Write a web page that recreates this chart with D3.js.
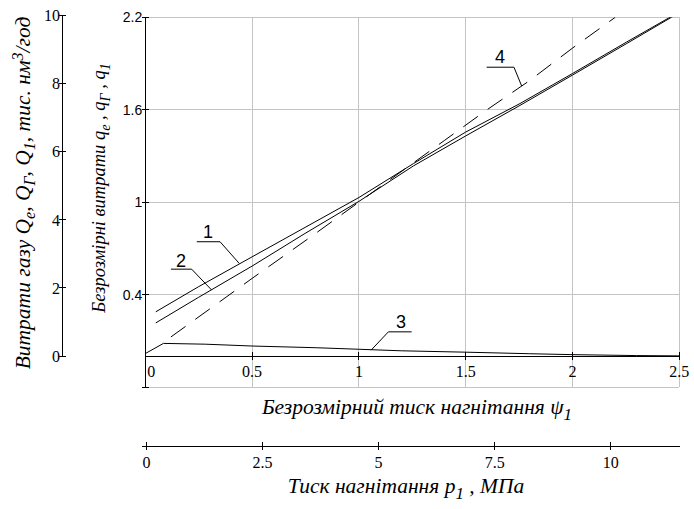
<!DOCTYPE html>
<html>
<head>
<meta charset="utf-8">
<script src="https://cdn.jsdelivr.net/npm/d3@7"></script>
<style>
  body { margin: 0; background: #fff; }
  text { fill: #000; font-family: "Liberation Serif", "DejaVu Serif", "Times New Roman", serif; }
  text.sans { font-family: "Liberation Sans", "DejaVu Sans", Arial, sans-serif; }
</style>
</head>
<body>
<script>
// безрозмірний тиск psi1 та витрати q (1 - qe, 2 - qГ, 3 - q1, 4 - пунктир)
const psi12 = [0.049, 0.248, 0.5, 0.748, 1.0, 1.255, 1.5, 1.754, 2.0, 2.254, 2.5];
const q1Line = [0.288, 0.45, 0.645, 0.836, 1.03, 1.25, 1.455, 1.64, 1.835, 2.04, 2.235];
const q2Line = [0.216, 0.381, 0.585, 0.797, 1.005, 1.235, 1.43, 1.628, 1.825, 2.03, 2.23];
const psi3 = [0, 0.085, 0.28, 0.5, 0.8, 1.0, 1.2, 1.5, 1.8, 2.0, 2.3, 2.5];
const q3Line = [0.017, 0.083, 0.078, 0.066, 0.055, 0.045, 0.035, 0.026, 0.016, 0.01, 0.004, 0.002];
const psi4 = [0.12, 0.5, 0.78, 1.0, 1.4, 1.6, 1.8, 2.0, 2.2];
const q4Line = [0.125, 0.505, 0.78, 1.0, 1.4, 1.6, 1.79, 2.0, 2.2];

const psiTicks = [0, 0.5, 1, 1.5, 2, 2.5];
const qTicks = [0.4, 1, 1.6, 2.2];
const QTicks = [0, 2, 4, 6, 8, 10];
const pTicks = [0, 2.5, 5, 7.5, 10];

// підписи кривих: текст, лінія-виноска, точка на кривій (у координатах psi, q)
const callouts = [
  {name: "1", tx: 0.294, ty: 0.767, hx0: 0.241, hx1: 0.350, hy: 0.743, px: 0.44, py: 0.602, side: 1},
  {name: "2", tx: 0.167, ty: 0.58, hx0: 0.12, hx1: 0.217, hy: 0.565, px: 0.311, py: 0.429, side: 1},
  {name: "3", tx: 1.197, ty: 0.18, hx0: 1.138, hx1: 1.247, hy: 0.158, px: 1.057, py: 0.039, side: 0},
  {name: "4", tx: 1.661, ty: 1.902, hx0: 1.598, hx1: 1.726, hy: 1.876, px: 1.762, py: 1.754, side: 1}
];

const W = 694, H = 509;
const pLeft = 145.3, pRight = 679.3, pTop = 17.3, pBottom = 387;

const svg = d3.select("body").append("svg")
  .attr("width", W).attr("height", H);

svg.append("rect").attr("width", W).attr("height", H).attr("fill", "#fff");

const x = d3.scaleLinear().domain([0, 2.5]).range([pLeft, pRight]);
const y = d3.scaleLinear().domain([-0.2, 2.2]).range([pBottom, pTop]);
const yQ = d3.scaleLinear().domain([0, 10]).range([y(0), 15]);
const xP = d3.scaleLinear().domain([0, 11.5]).range([146.5, pRight + 1]);

const grey = "#c4c4c4";

// сітка
const grid = svg.append("g").attr("stroke", grey).attr("stroke-width", 1).attr("shape-rendering", "crispEdges");
grid.selectAll(".gx").data(psiTicks.slice(1)).enter().append("line")
  .attr("x1", d => x(d)).attr("x2", d => x(d))
  .attr("y1", pTop).attr("y2", pBottom);
grid.selectAll(".gy").data(qTicks).enter().append("line")
  .attr("x1", pLeft).attr("x2", pRight)
  .attr("y1", d => y(d)).attr("y2", d => y(d));
grid.append("line").attr("x1", pLeft).attr("x2", pRight).attr("y1", pBottom).attr("y2", pBottom);

// вісь psi (на рівні q = 0)
const axX = svg.append("g").attr("stroke", "#000").attr("shape-rendering", "crispEdges");
axX.append("line").attr("x1", pLeft).attr("x2", pRight).attr("y1", y(0)).attr("y2", y(0));
axX.selectAll(".tx").data(psiTicks.slice(1)).enter().append("line")
  .attr("x1", d => x(d)).attr("x2", d => x(d))
  .attr("y1", y(0) - 4).attr("y2", y(0) + 4);
svg.selectAll(".psiLab").data(psiTicks).enter().append("text")
  .attr("x", d => d === 0 ? x(d) + 6 : x(d))
  .attr("y", y(0) + 21)
  .attr("text-anchor", "middle")
  .attr("font-size", 16)
  .text(d => d);

// вісь q
const axY = svg.append("g").attr("stroke", "#000").attr("shape-rendering", "crispEdges");
axY.append("line").attr("x1", pLeft).attr("x2", pLeft).attr("y1", pTop).attr("y2", pBottom);
axY.selectAll(".ty").data(qTicks.concat([-0.2])).enter().append("line")
  .attr("x1", pLeft - 3).attr("x2", pLeft + 4)
  .attr("y1", d => y(d)).attr("y2", d => y(d));
svg.selectAll(".qLab").data(qTicks).enter().append("text")
  .attr("class", "sans")
  .attr("x", pLeft - 3)
  .attr("y", d => y(d) + 5)
  .attr("text-anchor", "end")
  .attr("font-size", 14)
  .text(d => d);

// вісь Q (тис. нм3/год)
const axQ = svg.append("g").attr("stroke", "#000").attr("shape-rendering", "crispEdges");
axQ.append("line").attr("x1", 62).attr("x2", 62).attr("y1", yQ(10)).attr("y2", yQ(0));
axQ.selectAll(".tq").data(QTicks).enter().append("line")
  .attr("x1", 59).attr("x2", 66)
  .attr("y1", d => yQ(d)).attr("y2", d => yQ(d));
svg.selectAll(".QLab").data(QTicks).enter().append("text")
  .attr("x", 60)
  .attr("y", d => yQ(d) + 6)
  .attr("text-anchor", "end")
  .attr("font-size", 16)
  .text(d => d);

// вісь p1, МПа
const axP = svg.append("g").attr("stroke", "#000").attr("shape-rendering", "crispEdges");
const pY = 446;
axP.append("line").attr("x1", 142).attr("x2", xP(11.5)).attr("y1", pY).attr("y2", pY);
axP.selectAll(".tp").data(pTicks).enter().append("line")
  .attr("x1", d => xP(d)).attr("x2", d => xP(d))
  .attr("y1", pY - 4).attr("y2", pY + 4);
svg.selectAll(".pLab").data(pTicks).enter().append("text")
  .attr("x", d => xP(d))
  .attr("y", pY + 22)
  .attr("text-anchor", "middle")
  .attr("font-size", 16)
  .text(d => d);

// криві
svg.append("clipPath").attr("id", "clip").append("rect")
  .attr("x", pLeft).attr("y", pTop).attr("width", pRight - pLeft).attr("height", pBottom - pTop);

const line = d3.line().x(d => x(d[0])).y(d => y(d[1]));
const curves = [
  {pts: d3.zip(psi12, q1Line), dash: null},
  {pts: d3.zip(psi12, q2Line), dash: null},
  {pts: d3.zip(psi3, q3Line), dash: null},
  {pts: d3.zip(psi4, q4Line), dash: "18,12"}
];
svg.append("g").attr("clip-path", "url(#clip)")
  .selectAll("path").data(curves).enter().append("path")
  .attr("d", d => line(d.pts))
  .attr("fill", "none")
  .attr("stroke", "#000")
  .attr("stroke-width", 1)
  .attr("stroke-dasharray", d => d.dash);

// виноски
const co = svg.append("g");
co.selectAll(".cl").data(callouts).enter().append("polyline")
  .attr("points", d => {
    const sx = d.side ? x(d.hx0) : x(d.hx1);
    const ex = d.side ? x(d.hx1) : x(d.hx0);
    return [[sx, y(d.hy)], [ex, y(d.hy)], [x(d.px), y(d.py)]].join(" ");
  })
  .attr("fill", "none").attr("stroke", "#000").attr("stroke-width", 1);
co.selectAll(".ct").data(callouts).enter().append("text")
  .attr("class", "sans")
  .attr("x", d => x(d.tx)).attr("y", d => y(d.ty))
  .attr("text-anchor", "middle")
  .attr("font-size", 18)
  .text(d => d.name);

// підписи осей
const lab1 = svg.append("text")
  .attr("x", 417).attr("y", 414)
  .attr("text-anchor", "middle")
  .attr("font-style", "italic").attr("font-size", 21.5);
lab1.append("tspan").text("Безрозмірний тиск нагнітання ψ");
lab1.append("tspan").attr("dy", 6).attr("font-size", 17).text("1");

const lab2 = svg.append("text")
  .attr("x", 406).attr("y", 493)
  .attr("text-anchor", "middle")
  .attr("font-style", "italic").attr("font-size", 21.5);
lab2.append("tspan").text("Тиск нагнітання p");
lab2.append("tspan").attr("dy", 6).attr("font-size", 17).text("1");
lab2.append("tspan").attr("dy", -6).text(" , МПа");

const lab3 = svg.append("text")
  .attr("transform", "translate(30,193) rotate(-90)")
  .attr("text-anchor", "middle")
  .attr("font-style", "italic").attr("font-size", 21.5);
lab3.append("tspan").text("Витрати газу Q");
lab3.append("tspan").attr("dy", 5).attr("font-size", 16).text("e");
lab3.append("tspan").attr("dy", -5).text(", Q");
lab3.append("tspan").attr("dy", 5).attr("font-size", 16).text("Г");
lab3.append("tspan").attr("dy", -5).text(", Q");
lab3.append("tspan").attr("dy", 5).attr("font-size", 16).text("1");
lab3.append("tspan").attr("dy", -5).text(", тис. нм");
lab3.append("tspan").attr("dy", -7).attr("font-size", 16).text("3");
lab3.append("tspan").attr("dy", 7).text("/год");

const lab4 = svg.append("text")
  .attr("transform", "translate(105,188) rotate(-90)")
  .attr("text-anchor", "middle")
  .attr("font-style", "italic").attr("font-size", 18.5);
lab4.append("tspan").text("Безрозмірні витрати q");
lab4.append("tspan").attr("dy", 5).attr("font-size", 14).text("e");
lab4.append("tspan").attr("dy", -5).text(" , q");
lab4.append("tspan").attr("dy", 5).attr("font-size", 14).text("Г");
lab4.append("tspan").attr("dy", -5).text(" , q");
lab4.append("tspan").attr("dy", 5).attr("font-size", 14).text("1");
</script>
</body>
</html>
